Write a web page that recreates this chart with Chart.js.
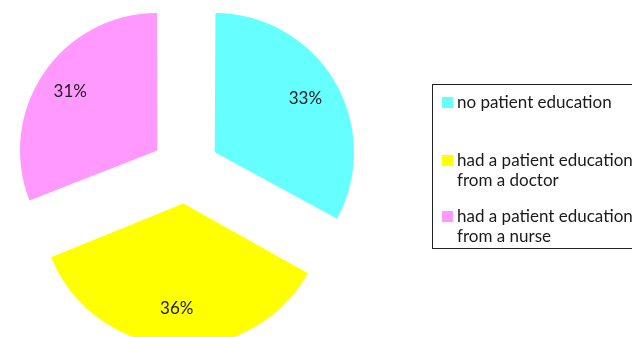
<!DOCTYPE html>
<html>
<head>
<meta charset="utf-8">
<script src="https://cdn.jsdelivr.net/npm/chart.js@4.4.1/dist/chart.umd.min.js"></script>
<style>
  html, body { margin: 0; padding: 0; background: #fff; }
  #wrap { position: relative; width: 632px; height: 337px; overflow: hidden; }
  #legend {
    position: absolute; left: 432px; top: 84px; width: 220px; height: 165px;
    border: 1.5px solid #222; box-sizing: border-box;
    font-family: Lato, sans-serif; font-size: 17px; color: #1a1a1a;
  }
  .item { position: absolute; left: 24px; line-height: 20px; white-space: nowrap; }
  .sw { position: absolute; left: -15px; top: 5px; width: 11px; height: 11px; }
</style>
</head>
<body>
<div id="wrap">
  <canvas id="pie" width="632" height="337"></canvas>
  <div id="legend"></div>
</div>
<script>
// Define the data
const categories = [
  ["no patient education"],
  ["had a patient education", "from a doctor"],
  ["had a patient education", "from a nurse"]
];
const shares = [33, 36, 31];
const colors = ['#66FFFF', '#FFFF00', '#FF99FF'];

// legend rows (top offsets inside the box)
const legendTops = [7, 65, 121];
const legend = document.getElementById('legend');
categories.forEach((lines, i) => {
  const div = document.createElement('div');
  div.className = 'item';
  div.style.top = legendTops[i] + 'px';
  div.innerHTML = '<span class="sw" style="background:' + colors[i] + '"></span>' + lines.join('<br>');
  legend.appendChild(div);
});

// percentage labels inside the exploded slices
const sliceLabels = {
  id: 'sliceLabels',
  afterDatasetsDraw(chart) {
    const ctx = chart.ctx;
    const meta = chart.getDatasetMeta(0);
    ctx.save();
    ctx.font = '17px Lato, sans-serif';
    ctx.fillStyle = '#1a1a1a';
    ctx.textAlign = 'center';
    ctx.textBaseline = 'middle';
    meta.data.forEach((arc, i) => {
      const {x, y, startAngle, endAngle, outerRadius} = arc.getProps(['x', 'y', 'startAngle', 'endAngle', 'outerRadius'], true);
      const mid = (startAngle + endAngle) / 2;
      const shift = (arc.options.offset || 0) / 4 + outerRadius * 0.78;
      ctx.fillText(shares[i] + '%', x + Math.cos(mid) * shift, y + Math.sin(mid) * shift);
    });
    ctx.restore();
  }
};

new Chart(document.getElementById('pie').getContext('2d'), {
  type: 'pie',
  data: {
    labels: categories.map(l => l.join(' ')),
    datasets: [{
      data: shares,
      backgroundColor: colors,
      borderWidth: 0,
      offset: 136,
      hoverOffset: 0,
      radius: 135,
      clip: false
    }]
  },
  options: {
    responsive: false,
    animation: false,
    events: [],
    layout: { padding: { left: 0, right: 261, top: 2, bottom: 0 } },
    plugins: {
      legend: { display: false },
      tooltip: { enabled: false }
    }
  },
  plugins: [sliceLabels]
});
</script>
</body>
</html>
